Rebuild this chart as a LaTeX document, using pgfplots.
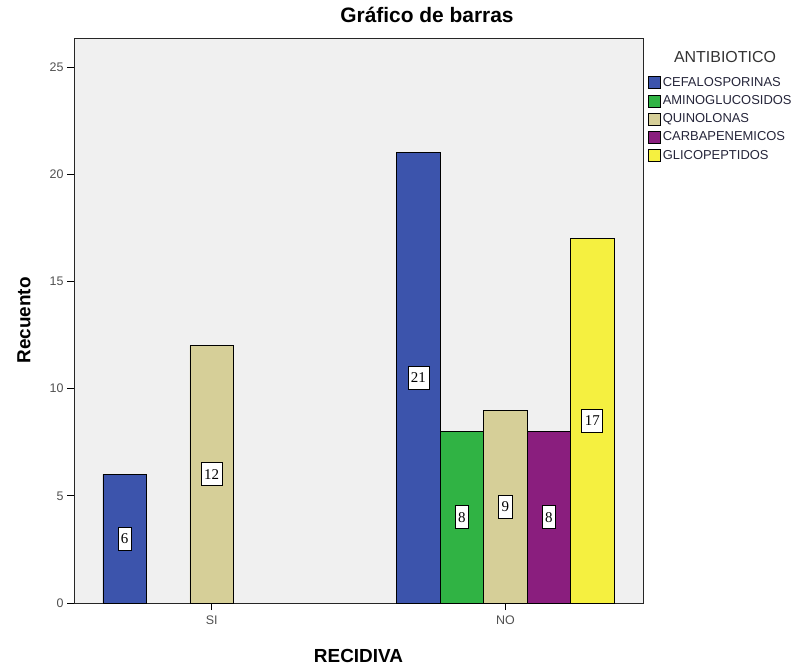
\documentclass[border=0pt]{standalone}
\usepackage{fontspec}
\setmainfont{Liberation Sans}
\newfontfamily\numfont{Liberation Serif}
\usepackage{pgfplots}
\pgfplotsset{compat=1.18}

\definecolor{cefa}{HTML}{3C54AC}
\definecolor{amino}{HTML}{30B344}
\definecolor{quino}{HTML}{D6CF98}
\definecolor{carba}{HTML}{8A1E7E}
\definecolor{glico}{HTML}{F5F040}
\definecolor{plotbg}{HTML}{F0F0F0}
\definecolor{tickgray}{HTML}{505050}
\definecolor{legtext}{HTML}{25253A}

\begin{document}
\begin{tikzpicture}
\useasboundingbox (0,0) rectangle (806bp,666bp);
\begin{axis}[
  at={(74bp,63bp)}, anchor=south west,
  scale only axis, width=569bp, height=565bp,
  clip=false,
  xmin=-0.4686, xmax=1.4686, ymin=0, ymax=26.35,
  ybar=0pt, bar width=0.148,
  axis background/.style={fill=plotbg},
  axis line style={draw=black!85, line width=0.9bp},
  xtick={0,1}, xticklabels={SI,NO},
  ytick={0,5,10,15,20,25},
  xtick pos=bottom, ytick pos=left,
  tick align=outside, major tick length=7bp,
  tick style={black, line width=0.8bp},
  ticklabel style={font=\fontsize{12.5}{15}\selectfont, text=tickgray},
  xticklabel style={yshift=-2bp},
  /pgf/number format/assume math mode=true,
  xlabel={RECIDIVA}, ylabel={Recuento},
  label style={font=\bfseries\fontsize{19}{22}\selectfont},
  xlabel style={at={(axis description cs:0.5,-0.0938)}, anchor=center},
  ylabel style={at={(axis description cs:-0.0879,0.5)}, anchor=center},
  title={Gráfico de barras},
  title style={at={(axis description cs:0.6204,1.0177)}, anchor=base,
               font=\bfseries\fontsize{21}{24}\selectfont},
  legend style={at={(1.0035,0.9375)}, anchor=north west, draw=none, fill=none,
                font=\fontsize{13}{15}\selectfont, text=legtext, row sep=3.6bp},
  legend cell align=left,
  legend image code/.code={\draw[#1, draw=black, line width=0.6bp] (0bp,-6bp) rectangle (12bp,6bp);},
  every axis plot/.append style={draw=black, line width=0.7bp},
  nodes near coords,
  point meta=y,
  visualization depends on=y \as \rawy,
  every node near coord/.append style={
    anchor=center, shift={(axis direction cs:0,-\rawy/2)},
    fill=white, draw=black, line width=0.7bp, text=black,
    inner xsep=3bp, inner ysep=0bp, minimum height=23bp,
    font=\numfont\fontsize{15}{16}\selectfont},
]
\addplot[fill=cefa] coordinates {(0,6) (1,21)};
\addlegendentry{CEFALOSPORINAS}
\addplot[fill=amino] coordinates {(1,8)};
\addlegendentry{AMINOGLUCOSIDOS}
\addplot[fill=quino] coordinates {(0,12) (1,9)};
\addlegendentry{QUINOLONAS}
\addplot[fill=carba] coordinates {(1,8)};
\addlegendentry{CARBAPENEMICOS}
\addplot[fill=glico] coordinates {(1,17)};
\addlegendentry{GLICOPEPTIDOS}

\node[font=\fontsize{16}{18}\selectfont, text=black!80, anchor=base]
  at (rel axis cs:1.1441,0.9558) {ANTIBIOTICO};
\end{axis}
\end{tikzpicture}
\end{document}
